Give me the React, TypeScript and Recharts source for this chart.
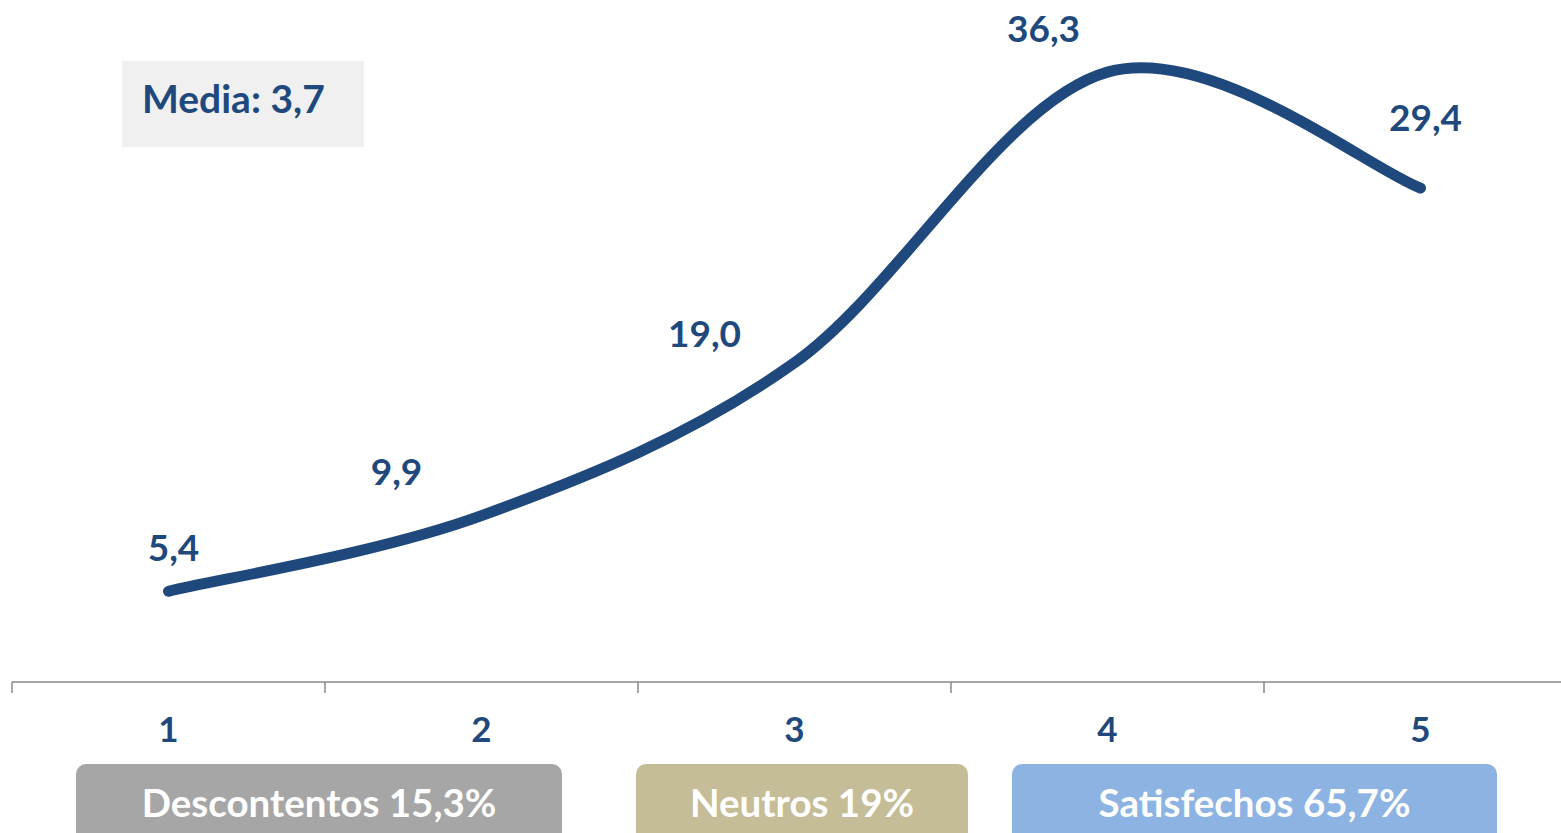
import React from 'react';
import { LineChart, Line, XAxis, YAxis, LabelList } from 'recharts';

const categories = ['1', '2', '3', '4', '5'];
const values = [5.4, 9.9, 19.0, 36.3, 29.4];
const labelOffsets = [
  [5, -30],
  [-85, -31],
  [-90, -16],
  [-64, -30],
  [5, -57],
];
const meanLabel = 'Media: 3,7';
const groups = [
  { name: 'Descontentos 15,3%', color: '#a6a6a6', left: 76, width: 486 },
  { name: 'Neutros 19%', color: '#c4bd97', left: 636, width: 332 },
  { name: 'Satisfechos 65,7%', color: '#8db3e2', left: 1012, width: 485 },
];

const data = categories.map((c, i) => ({ cat: c, value: values[i] }));

const FONT = 'Lato, "Open Sans", sans-serif';
const BLUE = '#1f497d';

// Excel-like smoothing: Catmull-Rom spline with endpoint tangents toward neighbours
function bez(that: any, x: number, y: number) {
  that._context.bezierCurveTo(
    that._x1 + that._k * (that._x2 - that._x0),
    that._y1 + that._k * (that._y2 - that._y0),
    that._x2 + that._k * (that._x1 - x),
    that._y2 + that._k * (that._y1 - y),
    that._x2,
    that._y2
  );
}
function smoothCurve(context: any) {
  const c: any = {
    _context: context,
    _k: 1 / 6,
    _line: NaN,
    _point: 0,
    areaStart() { this._line = 0; },
    areaEnd() { this._line = NaN; },
    lineStart() {
      this._x0 = this._x1 = this._x2 = this._y0 = this._y1 = this._y2 = NaN;
      this._point = 0;
    },
    lineEnd() {
      switch (this._point) {
        case 2: this._context.lineTo(this._x2, this._y2); break;
        case 3: bez(this, this._x2, this._y2); break;
      }
      if (this._line || (this._line !== 0 && this._point === 1)) this._context.closePath();
      this._line = 1 - this._line;
    },
    point(x: number, y: number) {
      x = +x; y = +y;
      switch (this._point) {
        case 0:
          this._point = 1;
          this._line ? this._context.lineTo(x, y) : this._context.moveTo(x, y);
          break;
        case 1:
          this._point = 2;
          this._x1 = this._x2; this._y1 = this._y2;
          break;
        case 2:
          this._point = 3;
          bez(this, x, y);
          break;
        default:
          bez(this, x, y);
          break;
      }
      this._x0 = this._x1; this._x1 = this._x2; this._x2 = x;
      this._y0 = this._y1; this._y1 = this._y2; this._y2 = y;
    },
  };
  return c;
}

const HALF_BAND = 156.5;

const CustomTick = (props: any) => {
  const { x, y, payload } = props;
  return (
    <g>
      <line x1={x - HALF_BAND} x2={x - HALF_BAND} y1={y} y2={y + 11} stroke="#888888" strokeWidth={1.5} />
      <text x={x} y={y + 60} textAnchor="middle" fill={BLUE} fontFamily={FONT} fontWeight={700} fontSize={35}>
        {payload.value}
      </text>
    </g>
  );
};

const renderLabel = (props: any) => {
  const { x, y, value, index } = props;
  const [dx, dy] = labelOffsets[index];
  return (
    <text x={x + dx} y={y + dy} textAnchor="middle" fill={BLUE} fontFamily={FONT} fontWeight={700} fontSize={37}>
      {Number(value).toFixed(1).replace('.', ',')}
    </text>
  );
};

export default function App() {
  return (
    <div style={{ position: 'absolute', left: 0, top: 0, width: 1561, height: 833, overflow: 'hidden', background: '#fff' }}>
      <LineChart width={1580} height={833} data={data} margin={{ top: 10, right: 3, bottom: 111, left: 12 }}>
        <XAxis
          dataKey="cat"
          padding={{ left: HALF_BAND, right: HALF_BAND }}
          axisLine={{ stroke: '#888888', strokeWidth: 1.5 }}
          tickLine={false}
          tickSize={0}
          tickMargin={0}
          height={40}
          tick={<CustomTick />}
          interval={0}
        />
        <YAxis hide domain={[0, 40]} />
        <Line
          dataKey="value"
          type={smoothCurve as any}
          stroke={BLUE}
          strokeWidth={11}
          strokeLinecap="round"
          dot={false}
          activeDot={false}
          isAnimationActive={false}
        >
          <LabelList dataKey="value" content={renderLabel} />
        </Line>
      </LineChart>
      <div
        style={{
          position: 'absolute', left: 122, top: 61, width: 242, height: 86, background: '#f0f0f0',
          fontFamily: FONT, fontWeight: 700, fontSize: 39, color: BLUE, boxSizing: 'border-box',
          paddingLeft: 20, lineHeight: '74px', whiteSpace: 'nowrap',
        }}
      >
        {meanLabel}
      </div>
      {groups.map((g) => (
        <div
          key={g.name}
          style={{
            position: 'absolute', left: g.left, top: 764, width: g.width, height: 90, background: g.color,
            borderRadius: 10, fontFamily: FONT, fontWeight: 700, fontSize: 38.5, color: '#ffffff',
            textAlign: 'center', lineHeight: '76px', whiteSpace: 'nowrap',
          }}
        >
          {g.name}
        </div>
      ))}
    </div>
  );
}
